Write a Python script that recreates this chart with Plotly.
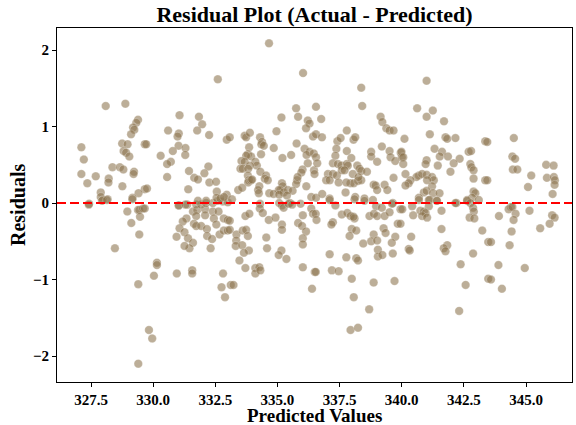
import plotly.graph_objects as go

# Predicted values (x) and residuals (y)
predicted = [
    328.09, 328.88, 329.39, 329.32, 329.19, 329.24, 329.11, 327.11, 328.75, 328.97,
    329.66, 327.21, 328.81, 328.91, 329.04, 327.11, 327.69, 328.36, 328.66, 328.80,
    329.23, 329.21, 327.35, 328.21, 328.20, 328.76, 329.66, 327.89, 329.41, 327.89,
    329.17, 328.17, 327.98, 327.42,
    327.41, 327.94, 328.14, 329.16, 328.96, 329.39, 329.44, 329.59, 329.47, 329.12,
    329.44, 328.46, 329.40, 329.40,
    329.83, 329.96, 330.15, 330.15, 330.03, 330.95, 331.57, 331.57, 332.81, 332.75,
    332.89, 333.12,
    331.03, 331.37, 331.60, 331.77, 331.73, 331.34, 331.19, 331.06, 330.94, 331.26,
    331.40, 331.64, 331.73, 331.93, 332.16, 332.17, 332.37, 331.60, 331.46, 331.26,
    332.31, 332.67, 332.84, 333.00, 332.09, 332.09, 332.40, 332.63, 332.44, 332.84,
    333.00, 332.54, 331.73, 331.93, 332.13, 332.40, 332.60, 329.66, 332.80, 333.00,
    332.60, 331.06, 331.84, 331.97, 330.60, 331.03, 330.98, 331.77, 332.25, 329.72,
    332.96, 331.02, 331.30, 331.29, 330.79, 330.30, 330.71, 330.56, 332.22, 331.44,
    332.06, 330.56, 331.65, 331.80, 332.26, 332.53, 329.75, 331.41, 332.56, 332.96,
    332.55, 332.70, 332.85, 331.80, 332.13, 331.03, 331.30,
    334.66, 336.03, 335.75, 335.83, 336.55, 335.16, 336.22, 336.29, 336.15, 334.96,
    333.08, 333.68, 333.74, 333.89, 334.30, 334.38, 334.35, 334.45, 334.85, 335.77,
    336.43, 336.55, 333.86, 333.81, 333.94, 333.74, 334.34, 335.55, 335.20, 336.09,
    336.29, 336.17, 336.46, 336.55, 333.55, 333.68, 333.51, 333.60, 334.11, 334.17,
    333.89, 333.82, 334.31, 334.54, 334.49, 334.61, 333.81, 333.85, 333.82, 333.94,
    333.98, 336.22, 336.01, 335.96, 336.47, 336.49, 335.79, 335.75, 336.16, 335.81,
    333.42, 333.58, 334.27, 334.22, 334.25, 335.18, 335.21, 335.12, 335.05, 335.25,
    335.42, 335.61, 334.67, 334.84, 335.07, 335.38, 336.36, 336.55, 333.17, 334.30,
    335.07, 335.50, 335.93,
    333.71, 333.87, 333.08, 334.29, 334.41, 334.65, 334.92, 335.18, 335.25, 335.45,
    335.59, 335.18, 335.18, 335.83, 335.99, 336.15, 336.02, 336.02, 336.02, 336.36,
    336.43, 333.08, 333.35, 333.60, 333.74, 333.81, 333.34, 333.32, 333.58, 333.85,
    333.65, 334.55, 334.58, 335.16, 335.05, 335.36, 333.47, 333.71, 334.11, 334.11,
    334.27, 334.31, 333.23, 336.02, 336.50, 336.39,
    338.37, 338.41, 336.76, 339.15, 339.22, 339.38, 339.51, 339.67, 337.79, 336.79,
    337.41, 337.54, 338.06, 338.13, 337.37, 337.79, 337.33, 337.97, 339.20, 338.77,
    338.77, 339.01, 339.51, 339.55, 339.74, 339.96, 340.00, 336.60, 337.23, 337.43,
    337.57, 337.79, 337.83, 338.21, 338.30, 338.37, 338.60, 339.67, 337.03, 337.23,
    337.39, 336.96, 337.10, 337.46, 337.59, 337.70, 338.03, 337.94, 338.07, 338.24,
    338.37, 338.26, 337.77, 337.74, 338.87, 338.95, 339.01, 339.31, 339.42, 336.80,
    337.10, 338.13, 338.50, 338.84, 339.64,
    337.10, 337.33, 338.10, 338.50, 338.97, 339.20, 339.61, 339.95, 336.54, 336.57,
    337.23, 337.17, 337.59, 337.81, 337.94, 338.10, 338.06, 338.70, 338.88, 339.01,
    339.31, 339.51, 339.84, 337.99, 338.17, 337.90, 338.87, 338.77, 339.01, 338.45,
    339.27, 339.35, 339.74, 339.60, 339.04, 339.04, 339.22, 339.64, 337.10, 337.77,
    338.17, 338.24, 336.54, 337.19, 337.46, 337.99, 338.87, 339.71, 338.07, 338.69,
    337.94, 338.24,
    341.00, 340.62, 341.00, 341.25, 341.70, 340.11, 341.13, 341.76, 341.83, 342.16,
    343.36, 339.99, 340.06, 341.32, 341.62, 341.53, 341.86, 342.33, 342.69, 342.79,
    340.06, 341.00, 340.96, 341.45, 342.09, 341.96, 342.76, 342.80, 342.89, 340.15,
    340.69, 340.59, 340.82, 341.00, 341.22, 341.29, 341.02, 340.35, 340.28, 340.15,
    342.89, 343.36, 341.22, 340.89, 341.00, 341.26, 341.52, 342.89, 342.96, 340.69,
    341.13, 341.40, 342.83, 342.63, 342.20,
    340.69, 341.09, 341.42, 342.16, 342.63, 342.76, 343.10, 340.02, 340.42, 341.09,
    340.75, 340.89, 340.96, 340.82, 341.02, 340.46, 341.60, 342.87, 342.90, 342.73,
    342.92, 339.95, 341.60, 343.24, 340.38, 340.28, 340.32, 341.83, 341.69, 341.76,
    342.87, 342.37, 342.57, 342.31, 343.48, 343.48,
    343.44, 344.51, 344.45, 344.56, 344.47, 344.65, 343.44, 345.21, 345.08, 345.81,
    346.11, 345.84, 346.12, 346.16, 346.15, 346.07, 344.39,
    344.30, 344.45, 344.58, 344.50, 343.91, 345.14, 346.05, 346.15, 345.95, 345.57,
    344.42, 343.59, 344.34, 343.89, 344.95, 343.59, 344.03,
]

residuals = [
    1.27, 1.30, 1.09, 1.05, 0.99, 0.96, 0.90, 0.73, 0.78, 0.77,
    0.77, 0.57, 0.68, 0.66, 0.61, 0.38, 0.35, 0.47, 0.47, 0.44,
    0.41, 0.38, 0.26, 0.32, 0.27, 0.22, 0.18, 0.14, 0.13, 0.08,
    0.07, 0.05, 0.04, -0.01,
    -0.02, 0.03, 0.04, 0.05, -0.11, -0.09, -0.09, -0.07, -0.18, -0.26,
    -0.41, -0.59, -1.06, -2.10,
    -1.66, -1.77, -0.78, -0.81, -0.95, -0.92, -0.88, -0.92, -0.92, -1.10,
    -1.23, -1.07,
    -0.03, -0.02, -0.11, -0.09, -0.17, -0.20, -0.24, -0.33, -0.44, -0.38,
    -0.46, -0.27, -0.30, -0.30, -0.34, -0.43, -0.47, -0.52, -0.59, -0.56,
    -0.59, -0.41, -0.36, -0.36, -0.08, -0.16, -0.11, -0.11, -0.20, -0.20,
    -0.22, -0.28, -0.02, -0.02, 0.00, 0.00, 0.03, -0.07, 0.02, 0.01,
    1.62, 1.15, 1.13, 1.03, 0.95, 0.91, 0.87, 0.95, 0.89, 0.77,
    0.83, 0.75, 0.72, 0.63, 0.68, 0.62, 0.54, 0.51, 0.48, 0.42,
    0.39, 0.34, 0.33, 0.31, 0.27, 0.28, 0.19, 0.18, 0.15, 0.11,
    0.07, 0.06, 0.08, 0.03, 0.03, -0.03, -0.02,
    2.09, 1.70, 1.24, 1.13, 1.26, 1.12, 1.08, 1.04, 0.98, 0.94,
    0.86, 0.88, 0.86, 0.92, 0.86, 0.80, 0.77, 0.75, 0.72, 0.78,
    0.87, 0.90, 0.73, 0.64, 0.61, 0.62, 0.64, 0.63, 0.59, 0.71,
    0.67, 0.63, 0.65, 0.60, 0.55, 0.54, 0.45, 0.45, 0.54, 0.49,
    0.49, 0.45, 0.41, 0.36, 0.32, 0.30, 0.36, 0.30, 0.27, 0.30,
    0.31, 0.52, 0.44, 0.40, 0.43, 0.38, 0.30, 0.25, 0.22, 0.34,
    0.17, 0.20, 0.22, 0.17, 0.13, 0.26, 0.22, 0.17, 0.17, 0.14,
    0.17, 0.16, 0.13, 0.12, 0.11, 0.10, 0.08, 0.07, 0.05, -0.01,
    0.00, 0.00, -0.01,
    -0.17, -0.14, -0.23, -0.07, -0.13, -0.22, -0.19, -0.03, -0.06, -0.01,
    -0.02, -0.28, -0.35, -0.26, -0.30, -0.37, -0.46, -0.54, -0.16, -0.07,
    -0.14, -0.35, -0.41, -0.36, -0.35, -0.43, -0.49, -0.56, -0.55, -0.62,
    -0.65, -0.45, -0.59, -0.62, -0.68, -0.73, -0.75, -0.85, -0.85, -0.92,
    -0.84, -0.88, -1.07, -0.84, -0.90, -1.12,
    1.51, 1.27, 1.10, 1.13, 1.06, 0.98, 0.95, 0.95, 0.95, 0.86,
    0.81, 0.85, 0.83, 0.86, 0.71, 0.68, 0.62, 0.59, 0.74, 0.67,
    0.61, 0.54, 0.68, 0.60, 0.55, 0.66, 0.60, 0.52, 0.52, 0.51,
    0.49, 0.51, 0.49, 0.49, 0.45, 0.42, 0.41, 0.33, 0.38, 0.38,
    0.36, 0.30, 0.30, 0.27, 0.43, 0.43, 0.38, 0.26, 0.26, 0.29,
    0.30, 0.34, 0.27, 0.14, 0.24, 0.23, 0.17, 0.24, 0.17, 0.12,
    0.06, 0.08, 0.06, 0.04, 0.00,
    0.04, -0.03, 0.05, 0.03, -0.04, -0.06, -0.01, -0.08, -0.14, -0.22,
    -0.25, -0.28, -0.15, -0.13, -0.17, -0.20, -0.18, -0.17, -0.14, -0.17,
    -0.17, -0.12, -0.27, -0.34, -0.36, -0.43, -0.41, -0.50, -0.49, -0.53,
    -0.33, -0.39, -0.44, -0.52, -0.61, -0.70, -0.68, -0.66, -0.67, -0.71,
    -0.72, -0.75, -0.90, -0.88, -0.89, -0.99, -1.04, -1.02, -1.23, -1.39,
    -1.66, -1.63,
    1.60, 1.24, 1.13, 1.21, 1.07, 0.84, 0.90, 0.86, 0.84, 0.85,
    0.81, 0.67, 0.60, 0.71, 0.67, 0.61, 0.61, 0.58, 0.67, 0.68,
    0.51, 0.56, 0.51, 0.49, 0.52, 0.41, 0.51, 0.47, 0.43, 0.38,
    0.36, 0.34, 0.38, 0.37, 0.34, 0.30, 0.30, 0.30, 0.26, 0.23,
    0.32, 0.30, 0.22, 0.14, 0.16, 0.13, 0.13, 0.15, 0.13, 0.07,
    0.04, 0.03, 0.07, 0.04, 0.00,
    0.04, 0.04, 0.03, 0.00, 0.03, 0.00, 0.04, -0.08, -0.04, -0.04,
    -0.10, -0.11, -0.13, -0.17, -0.19, -0.16, -0.10, -0.06, -0.11, -0.19,
    -0.20, -0.27, -0.34, -0.36, -0.44, -0.60, -0.62, -0.55, -0.59, -0.63,
    -0.66, -0.80, -1.07, -1.41, -0.51, -0.99,
    0.80, 0.85, 0.61, 0.58, 0.44, 0.44, 0.30, 0.36, 0.21, 0.50,
    0.49, 0.33, 0.34, 0.30, 0.24, 0.12, -0.05,
    -0.08, -0.05, -0.14, -0.22, -0.17, -0.10, -0.16, -0.19, -0.27, -0.33,
    -0.37, -0.51, -0.55, -0.81, -0.85, -1.00, -1.12,
]

x_ticks = [327.5, 330.0, 332.5, 335.0, 337.5, 340.0, 342.5, 345.0]
y_ticks = [-2, -1, 0, 1, 2]

n = min(len(predicted), len(residuals))
predicted = predicted[:n]
residuals = residuals[:n]

font_family = "Liberation Serif, Times New Roman, serif"

fig = go.Figure()
fig.add_trace(go.Scatter(
    x=predicted, y=residuals, mode="markers",
    marker=dict(size=8.5, color="rgba(140,115,78,0.58)",
                line=dict(width=0.5, color="rgba(255,255,255,0.5)")),
    showlegend=False,
))

fig.add_hline(y=0, line=dict(color="#ff0000", width=2, dash="9px,4px"))

fig.update_layout(
    width=576, height=425,
    margin=dict(l=57, r=4, t=28, b=43, autoexpand=False),
    paper_bgcolor="white", plot_bgcolor="white",
    font=dict(family=font_family, color="black", size=15),
    title=dict(text="<b>Residual Plot (Actual - Predicted)</b>",
               x=0.5, xref="paper", xanchor="center",
               y=1 - 14 / 425, yref="container", yanchor="middle",
               font=dict(size=22, family=font_family)),
    annotations=[
        dict(text="<b>Predicted Values</b>", xref="paper", yref="paper",
             x=0.5, y=(382 - 416) / 354, xanchor="center", yanchor="middle",
             borderpad=0, showarrow=False, font=dict(size=19, family=font_family)),
        dict(text="<b>Residuals</b>", xref="paper", yref="paper",
             x=(18 - 57) / 515, y=0.5, xanchor="center", yanchor="middle",
             borderpad=0, textangle=-90, showarrow=False,
             font=dict(size=20, family=font_family)),
    ],
)

fig.update_xaxes(
    range=[326.13, 346.85], automargin=False,
    tickvals=x_ticks, ticktext=["<b>%.1f</b>" % v for v in x_ticks],
    ticks="outside", ticklen=4, tickwidth=1, tickcolor="black",
    showline=True, linecolor="black", linewidth=1, mirror=True,
    showgrid=False, zeroline=False,
    tickfont=dict(size=15),
)
fig.update_yaxes(
    range=[-2.34, 2.29], automargin=False,
    tickvals=y_ticks, ticktext=["<b>%s</b>" % (("\u2212%d" % -v) if v < 0 else str(v)) for v in y_ticks],
    ticks="outside", ticklen=4, tickwidth=1, tickcolor="black",
    showline=True, linecolor="black", linewidth=1, mirror=True,
    showgrid=False, zeroline=False,
    tickfont=dict(size=15),
)

fig.write_html("out.html",
               config={"displayModeBar": False},
               post_script="document.body.style.margin='0';document.body.style.padding='0';")
